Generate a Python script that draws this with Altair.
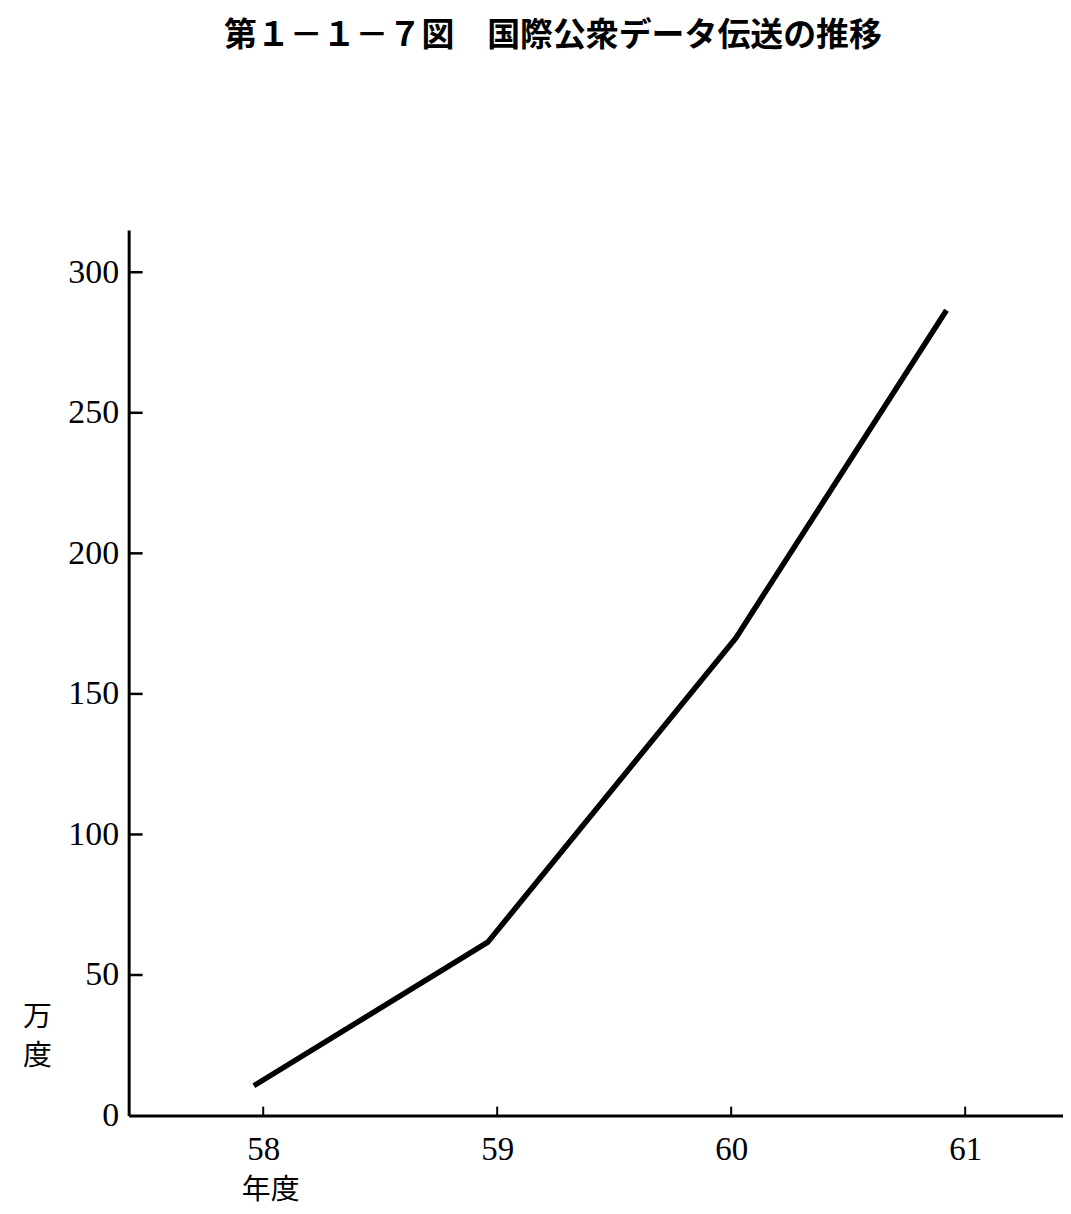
import altair as alt
import pandas as pd

# Data (fiscal year -> 万度)
years = [57.96, 58.96, 60.02, 60.92]
values = [10.6, 61.7, 169.9, 286.5]

x_ticks = [58, 59, 60, 61]
y_ticks = [0, 50, 100, 150, 200, 250, 300]
y_inner_ticks = [50, 100, 150, 200, 250, 300]

line_df = pd.DataFrame({"year": years, "val": values})
xt_df = pd.DataFrame({"year": x_ticks})
yt_df = pd.DataFrame({"val": y_inner_ticks})

PLOT_W = 937
PLOT_H = 888
LABEL_FONT = "Liberation Serif"
CJK = "Noto Sans CJK JP"

x_scale = alt.Scale(domain=[57.425, 61.418], nice=False, zero=False)
y_scale = alt.Scale(domain=[0, 315], nice=False, zero=False)

x_axis = alt.Axis(
    values=x_ticks, format="d", ticks=False, grid=False,
    domainColor="black", domainWidth=3,
    labelFont=LABEL_FONT, labelFontSize=33, labelColor="black",
    labelPadding=18, labelBaseline="top",
    title="年度", titleFont=CJK, titleFontSize=29, titleFontWeight="normal",
    titleColor="black", titleAngle=0, titleAlign="left", titleBaseline="top",
    titleX=113, titleY=60,
)
y_axis = alt.Axis(
    values=y_ticks, format="d", ticks=False, grid=False,
    domainColor="black", domainWidth=3,
    labelFont=LABEL_FONT, labelFontSize=34, labelColor="black",
    labelPadding=10,
    title=["万", "度"], titleFont=CJK, titleFontSize=29, titleFontWeight="normal",
    titleColor="black", titleAngle=0, titleAlign="center", titleBaseline="top",
    titleX=-92, titleY=775, titleLineHeight=39,
)

line = alt.Chart(line_df).mark_line(color="black", strokeWidth=5.5, strokeJoin="round").encode(
    x=alt.X("year:Q", scale=x_scale, axis=x_axis),
    y=alt.Y("val:Q", scale=y_scale, axis=y_axis),
)

x_tick_marks = alt.Chart(xt_df).mark_rule(color="black", strokeWidth=2).encode(
    x=alt.X("year:Q", scale=x_scale, axis=x_axis),
    y=alt.value(PLOT_H),
    y2=alt.value(PLOT_H - 9),
)

y_tick_marks = alt.Chart(yt_df).mark_rule(color="black", strokeWidth=2.5).encode(
    y=alt.Y("val:Q", scale=y_scale, axis=y_axis),
    x=alt.value(0),
    x2=alt.value(14),
)

chart = alt.layer(line, x_tick_marks, y_tick_marks).properties(
    width=PLOT_W,
    height=PLOT_H,
    autosize="none",
    background="white",
    padding={"left": 121, "top": 221, "right": 0, "bottom": 92},
    title=alt.TitleParams(
        text="第１－１－７図　国際公衆データ伝送の推移",
        font=CJK, fontSize=33, fontWeight="bold", color="black",
        anchor="middle", dx=-43, offset=178,
    ),
).configure_view(strokeWidth=0)

chart.save("out.html", embed_options={"renderer": "svg", "actions": False})
